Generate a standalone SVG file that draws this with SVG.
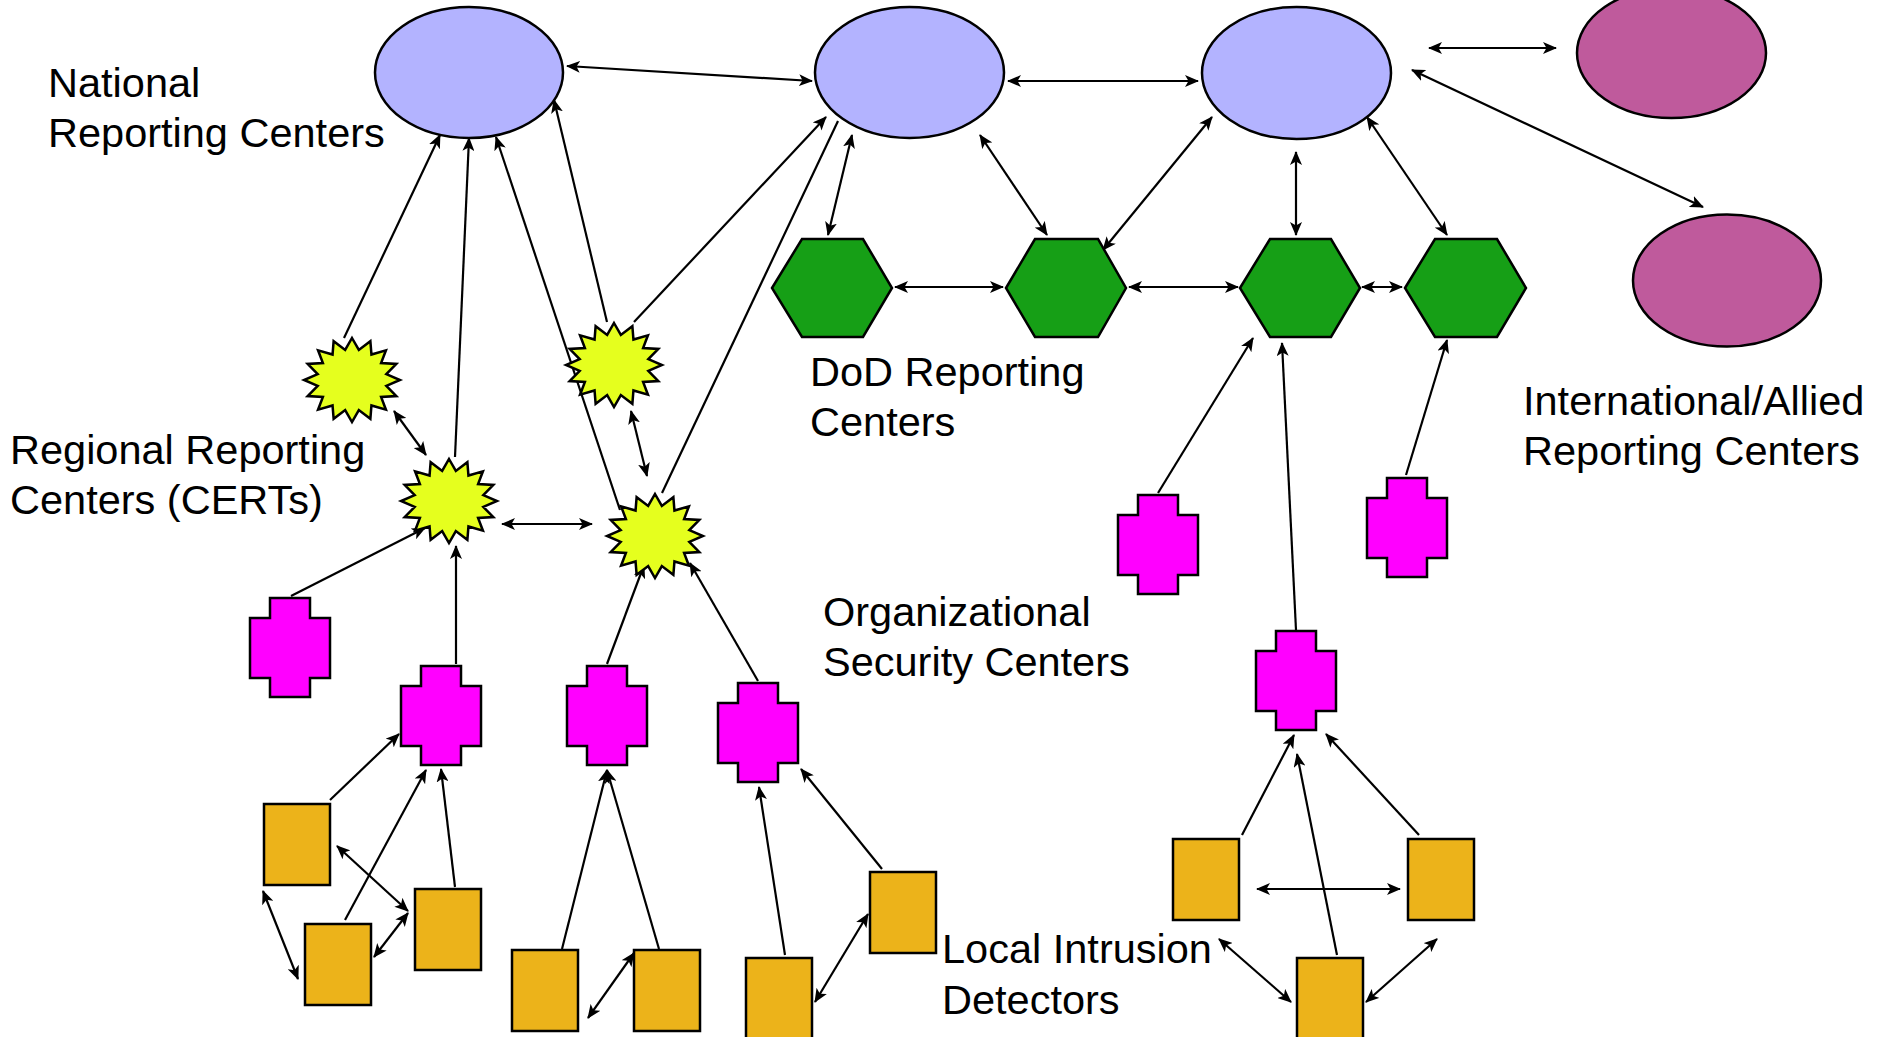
<svg xmlns="http://www.w3.org/2000/svg" xmlns:xlink="http://www.w3.org/1999/xlink" width="1885" height="1037" viewBox="0 0 1885 1037">
<style>
.lbl{font-family:"Liberation Sans",Arial,sans-serif;font-size:41.5px;fill:#000}
.nat{fill:#B3B3FF;stroke:#000;stroke-width:2.5}
.intl{fill:#BF5A9C;stroke:#000;stroke-width:2.5}
.dod{fill:#169F16;stroke:#000;stroke-width:2.5}
.cert{fill:#E5FF1E;stroke:#000;stroke-width:2.5;stroke-linejoin:miter}
.org{fill:#FF00FF;stroke:#000;stroke-width:2.5}
.det{fill:#ECB31A;stroke:#000;stroke-width:2.5}
.c line{stroke:#000;stroke-width:2.2;fill:none}
.s{marker-end:url(#ah)}
.d{marker-start:url(#ah);marker-end:url(#ah)}
</style>
<defs>
<marker id="ah" markerUnits="userSpaceOnUse" viewBox="0 0 14 12" refX="13" refY="6" markerWidth="14" markerHeight="12" orient="auto-start-reverse">
<path d="M0,0 L14,6 L0,12 L3.5,6 Z" fill="#000"/>
</marker>
<path id="star" d="M0,-42 L6.83,-30.01 L18.37,-38.8 L19.45,-25.44 L33.94,-29.7 L29.1,-17 L44.35,-16.07 L34.33,-5.97 L48,0 L34.33,5.97 L44.35,16.07 L29.1,17 L33.94,29.7 L19.45,25.44 L18.37,38.8 L6.83,30.01 L0,42 L-6.83,30.01 L-18.37,38.8 L-19.45,25.44 L-33.94,29.7 L-29.1,17 L-44.35,16.07 L-34.33,5.97 L-48,0 L-34.33,-5.97 L-44.35,-16.07 L-29.1,-17 L-33.94,-29.7 L-19.45,-25.44 L-18.37,-38.8 L-6.83,-30.01 Z"/>
<path id="cross" d="M20,0 H60 V20 H80 V80 H60 V99 H20 V80 H0 V20 H20 Z"/>
<rect id="box" width="66" height="81"/>
</defs>

<g id="connectors" class="c">
<line class="s" x1="344" y1="338" x2="440" y2="135"/>
<line class="s" x1="455" y1="457" x2="469" y2="138"/>
<line class="s" x1="620" y1="510" x2="496" y2="137"/>
<line class="s" x1="607" y1="322" x2="554" y2="100"/>
<line class="s" x1="634" y1="322" x2="826" y2="117"/>
<line x1="662" y1="493" x2="838" y2="121"/>
<line class="s" x1="1158" y1="493" x2="1253" y2="338"/>
<line class="s" x1="1296" y1="630" x2="1282" y2="343"/>
<line class="s" x1="1406" y1="475" x2="1447" y2="340"/>
<line class="s" x1="291" y1="596" x2="425" y2="528"/>
<line class="s" x1="456" y1="664" x2="456" y2="546"/>
<line class="s" x1="607" y1="664" x2="644" y2="565"/>
<line class="s" x1="758" y1="681" x2="690" y2="563"/>
<line class="s" x1="330" y1="800" x2="399" y2="734"/>
<line class="s" x1="345" y1="920" x2="426" y2="770"/>
<line class="s" x1="455" y1="887" x2="441" y2="769"/>
<line class="s" x1="562" y1="949" x2="607" y2="770"/>
<line class="s" x1="659" y1="949" x2="607" y2="770"/>
<line class="s" x1="785" y1="955" x2="759" y2="787"/>
<line class="s" x1="882" y1="869" x2="801" y2="769"/>
<line class="s" x1="1242" y1="835" x2="1294" y2="735"/>
<line class="s" x1="1337" y1="955" x2="1297" y2="754"/>
<line class="s" x1="1419" y1="835" x2="1326" y2="734"/>
<line class="d" x1="567" y1="66" x2="812" y2="81"/>
<line class="d" x1="1008" y1="81" x2="1198" y2="81"/>
<line class="d" x1="852" y1="135" x2="828" y2="235"/>
<line class="d" x1="980" y1="135" x2="1047" y2="235"/>
<line class="d" x1="1212" y1="117" x2="1103" y2="250"/>
<line class="d" x1="895" y1="287" x2="1003" y2="287"/>
<line class="d" x1="1129" y1="287" x2="1238" y2="287"/>
<line class="d" x1="1362" y1="287" x2="1402" y2="287"/>
<line class="d" x1="1296" y1="152" x2="1296" y2="235"/>
<line class="d" x1="1367" y1="117" x2="1447" y2="235"/>
<line class="d" x1="1429" y1="48" x2="1556" y2="48"/>
<line class="d" x1="1412" y1="70" x2="1703" y2="207"/>
<line class="d" x1="394" y1="411" x2="426" y2="455"/>
<line class="d" x1="502" y1="524" x2="592" y2="524"/>
<line class="d" x1="631" y1="411" x2="647" y2="476"/>
<line class="d" x1="337" y1="846" x2="408" y2="911"/>
<line class="d" x1="263" y1="891" x2="298" y2="979"/>
<line class="d" x1="374" y1="957" x2="408" y2="913"/>
<line class="d" x1="588" y1="1018" x2="634" y2="953"/>
<line class="d" x1="815" y1="1002" x2="868" y2="914"/>
<line class="d" x1="1257" y1="889" x2="1400" y2="889"/>
<line class="d" x1="1219" y1="939" x2="1291" y2="1002"/>
<line class="d" x1="1366" y1="1002" x2="1437" y2="939"/>
</g>

<g id="nat1"><ellipse class="nat" cx="469" cy="72.5" rx="94" ry="65.5"/></g>
<g id="nat2"><ellipse class="nat" cx="909.5" cy="72.5" rx="94.5" ry="65.5"/></g>
<g id="nat3"><ellipse class="nat" cx="1296.5" cy="73" rx="94.5" ry="66"/></g>
<g id="intl1"><ellipse class="intl" cx="1671.5" cy="53" rx="94.5" ry="65"/></g>
<g id="intl2"><ellipse class="intl" cx="1727" cy="280.5" rx="94" ry="66"/></g>

<g id="dod1"><polygon class="dod" points="772,288 802,239 863,239 892,288 863,337 802,337"/></g>
<g id="dod2"><polygon class="dod" points="1006,288 1035,239 1098,239 1126,288 1098,337 1035,337"/></g>
<g id="dod3"><polygon class="dod" points="1240,288 1270,239 1331,239 1360,288 1331,337 1270,337"/></g>
<g id="dod4"><polygon class="dod" points="1405,288 1435,239 1497,239 1526,288 1497,337 1435,337"/></g>

<g id="cert1"><use xlink:href="#star" class="cert" x="352" y="380"/></g>
<g id="cert2"><use xlink:href="#star" class="cert" x="614" y="365"/></g>
<g id="cert3"><use xlink:href="#star" class="cert" x="449" y="501"/></g>
<g id="cert4"><use xlink:href="#star" class="cert" x="655" y="536"/></g>

<g id="org1"><use xlink:href="#cross" class="org" x="250" y="598"/></g>
<g id="org2"><use xlink:href="#cross" class="org" x="401" y="666"/></g>
<g id="org3"><use xlink:href="#cross" class="org" x="567" y="666"/></g>
<g id="org4"><use xlink:href="#cross" class="org" x="718" y="683"/></g>
<g id="org5"><use xlink:href="#cross" class="org" x="1118" y="495"/></g>
<g id="org6"><use xlink:href="#cross" class="org" x="1367" y="478"/></g>
<g id="org7"><use xlink:href="#cross" class="org" x="1256" y="631"/></g>

<g id="det1"><use xlink:href="#box" class="det" x="264" y="804"/></g>
<g id="det2"><use xlink:href="#box" class="det" x="305" y="924"/></g>
<g id="det3"><use xlink:href="#box" class="det" x="415" y="889"/></g>
<g id="det4"><use xlink:href="#box" class="det" x="512" y="950"/></g>
<g id="det5"><use xlink:href="#box" class="det" x="634" y="950"/></g>
<g id="det6"><use xlink:href="#box" class="det" x="746" y="958"/></g>
<g id="det7"><use xlink:href="#box" class="det" x="870" y="872"/></g>
<g id="det8"><use xlink:href="#box" class="det" x="1173" y="839"/></g>
<g id="det9"><use xlink:href="#box" class="det" x="1408" y="839"/></g>
<g id="det10"><use xlink:href="#box" class="det" x="1297" y="958"/></g>

<g id="labels">
<text class="lbl" x="48" y="97">National</text>
<text class="lbl" x="48" y="147">Reporting Centers</text>
<text class="lbl" x="10" y="464">Regional Reporting</text>
<text class="lbl" x="10" y="514">Centers (CERTs)</text>
<text class="lbl" x="810" y="386">DoD Reporting</text>
<text class="lbl" x="810" y="436">Centers</text>
<text class="lbl" x="1523" y="415">International/Allied</text>
<text class="lbl" x="1523" y="465">Reporting Centers</text>
<text class="lbl" x="823" y="626">Organizational</text>
<text class="lbl" x="823" y="676">Security Centers</text>
<text class="lbl" x="942" y="963">Local Intrusion</text>
<text class="lbl" x="942" y="1014">Detectors</text>
</g>
</svg>
